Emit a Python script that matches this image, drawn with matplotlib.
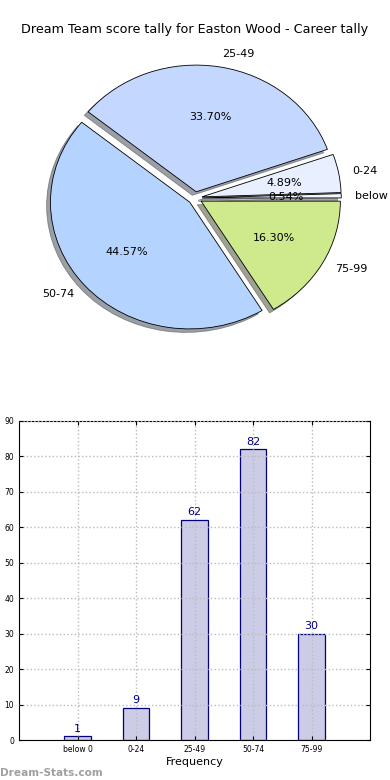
import matplotlib
matplotlib.use('Agg')
import matplotlib.pyplot as plt

labels = ['below 0', '0-24', '25-49', '50-74', '75-99']
counts = [1, 9, 62, 82, 30]
pie_colors = ['#f4f6ff', '#e8efff', '#c4d8ff', '#b4d4ff', '#ceea8c']
title = 'Dream Team score tally for Easton Wood - Career tally'

fig = plt.figure(figsize=(3.9, 7.8), dpi=100)

# pie on top (stretched a bit wider than tall, like the original)
ax1 = fig.add_axes([0, 0.5, 1, 0.5])
ax1.pie(counts, labels=labels, colors=pie_colors, explode=[0.05]*5,
        autopct='%1.2f%%', shadow=True, startangle=0,
        wedgeprops={'edgecolor': 'black', 'linewidth': 0.6},
        textprops={'fontsize': 8})
ax1.set_xlim(-1.40, 1.40)
ax1.set_ylim(-1.515, 1.563)
ax1.set_aspect('auto')
ax1.axis('off')
fig.text(0.5, 1 - 30/780, title, ha='center', va='center', fontsize=9.2)

# bars below
ax2 = fig.add_axes([19/390, 1 - 740/780, 351/390, 319/780])
pos = list(range(1, len(counts) + 1))
bars = ax2.bar(pos, counts, width=0.45, color='#ccccE6', edgecolor='navy', linewidth=0.9)
for p, c in zip(pos, counts):
    ax2.text(p, c + 0.8, str(c), ha='center', va='bottom', color='navy', fontsize=8)
ax2.set_xlim(0, 6)
ax2.set_ylim(0, 90)
ax2.set_xticks(pos)
ax2.set_xticklabels(labels, fontsize=5.5)
ax2.set_yticks(range(0, 91, 10))
ax2.tick_params(axis='y', labelsize=5.5, direction='in', length=3)
ax2.tick_params(axis='x', direction='in', length=3)
ax2.tick_params(top=True, right=True)
ax2.grid(True, linestyle=':', color='#bbbbbb', linewidth=1)
ax2.set_axisbelow(False)
ax2.set_xlabel('Frequency', fontsize=8, labelpad=2)

fig.text(0.0, 0.005, 'Dream-Stats.com', color='#888888', fontsize=7.6, fontweight='bold', alpha=0.8)

fig.savefig('out.png', dpi=100)
